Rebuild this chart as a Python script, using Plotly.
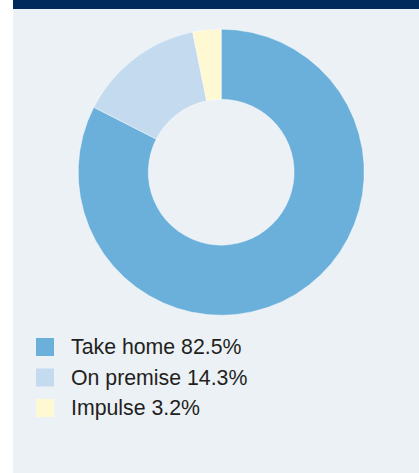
import plotly.graph_objects as go

labels = ["Take home", "On premise", "Impulse"]
values = [82.5, 14.3, 3.2]
colors = ["#6AB0DB", "#C3DAEF", "#FEF8D3"]

W, H = 419, 473
panel_bg = "#ECF1F6"
navy = "#002A5C"

cx, cy, r = 221.2, 172.2, 143.0

fig = go.Figure()
fig.add_trace(go.Pie(
    labels=labels,
    values=values,
    marker=dict(colors=colors, line=dict(color="#FFFFFF", width=0.4)),
    hole=0.51,
    sort=False,
    direction="clockwise",
    rotation=0,
    textinfo="none",
    hoverinfo="label+percent",
    showlegend=False,
    domain=dict(x=[(cx - r) / W, (cx + r) / W], y=[1 - (cy + r) / H, 1 - (cy - r) / H]),
))

shapes = [
    dict(type="rect", xref="paper", yref="paper", x0=0, x1=13 / W, y0=0, y1=1,
         fillcolor="#FFFFFF", line=dict(width=0), layer="below"),
    dict(type="rect", xref="paper", yref="paper", x0=13 / W, x1=1, y0=1 - 9 / H, y1=1,
         fillcolor=navy, line=dict(width=0), layer="below"),
]
annotations = []
row_y = [347, 377.5, 408]
for i, (lab, val, col) in enumerate(zip(labels, values, colors)):
    yc = row_y[i]
    shapes.append(dict(type="rect", xref="paper", yref="paper",
                       x0=36 / W, x1=54 / W, y0=1 - (yc + 9) / H, y1=1 - (yc - 9) / H,
                       fillcolor=col, line=dict(width=0)))
    annotations.append(dict(xref="paper", yref="paper", x=68.5 / W, y=1 - yc / H,
                            xanchor="left", yanchor="middle", showarrow=False,
                            text=f"{lab} {val}%",
                            font=dict(family="Liberation Sans, Arial, sans-serif", size=21.3, color="#231F20")))

fig.update_layout(
    width=W, height=H,
    margin=dict(l=0, r=0, t=0, b=0),
    paper_bgcolor=panel_bg,
    plot_bgcolor=panel_bg,
    shapes=shapes,
    annotations=annotations,
)

fig.write_html("out.html",
               config={"displayModeBar": False},
               post_script="document.body.style.margin='0';document.body.style.overflow='hidden';")
